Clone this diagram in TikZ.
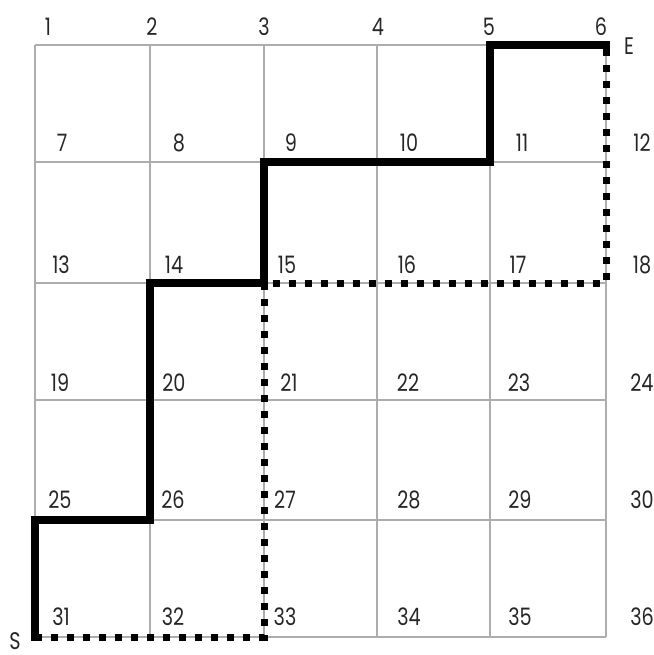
\documentclass[tikz,border=0pt]{standalone}
\usepackage{fontspec}
\setmainfont{Poppins}[FakeStretch=0.8]

\begin{document}
\begin{tikzpicture}[x=0.5pt,y=-0.5pt,font=\fontsize{12}{14}\selectfont,
  grid-line/.style={draw=black!32,line width=0.75pt},
  detour-line/.style={draw=black,line width=3.5pt,dash pattern=on 3.5pt off 4.5pt,line cap=butt},
  route-line/.style={draw=black,line width=3.7pt,line join=miter,line cap=rect},
  vertex-label/.style={anchor=base,inner sep=0pt,text=black!85}]
\useasboundingbox (0,0) rectangle (654,655);
\coordinate (vertex-1) at (35,45);
\coordinate (vertex-2) at (150,45);
\coordinate (vertex-3) at (264,45);
\coordinate (vertex-4) at (377,45);
\coordinate (vertex-5) at (490,45);
\coordinate (vertex-6) at (606,45);
\coordinate (vertex-7) at (35,162);
\coordinate (vertex-8) at (150,162);
\coordinate (vertex-9) at (264,162);
\coordinate (vertex-10) at (377,162);
\coordinate (vertex-11) at (490,162);
\coordinate (vertex-12) at (606,162);
\coordinate (vertex-13) at (35,283);
\coordinate (vertex-14) at (150,283);
\coordinate (vertex-15) at (264,283);
\coordinate (vertex-16) at (377,283);
\coordinate (vertex-17) at (490,283);
\coordinate (vertex-18) at (606,283);
\coordinate (vertex-19) at (35,400);
\coordinate (vertex-20) at (150,400);
\coordinate (vertex-21) at (264,400);
\coordinate (vertex-22) at (377,400);
\coordinate (vertex-23) at (490,400);
\coordinate (vertex-24) at (606,400);
\coordinate (vertex-25) at (35,520);
\coordinate (vertex-26) at (150,520);
\coordinate (vertex-27) at (264,520);
\coordinate (vertex-28) at (377,520);
\coordinate (vertex-29) at (490,520);
\coordinate (vertex-30) at (606,520);
\coordinate (vertex-31) at (35,637);
\coordinate (vertex-32) at (150,637);
\coordinate (vertex-33) at (264,637);
\coordinate (vertex-34) at (377,637);
\coordinate (vertex-35) at (490,637);
\coordinate (vertex-36) at (606,637);
\path[grid-line] (vertex-1) -- (vertex-6);
\path[grid-line] (vertex-7) -- (vertex-12);
\path[grid-line] (vertex-13) -- (vertex-18);
\path[grid-line] (vertex-19) -- (vertex-24);
\path[grid-line] (vertex-25) -- (vertex-30);
\path[grid-line] (vertex-31) -- (vertex-36);
\path[grid-line] (vertex-1) -- (vertex-31);
\path[grid-line] (vertex-2) -- (vertex-32);
\path[grid-line] (vertex-3) -- (vertex-33);
\path[grid-line] (vertex-4) -- (vertex-34);
\path[grid-line] (vertex-5) -- (vertex-35);
\path[grid-line] (vertex-6) -- (vertex-36);
\path[detour-line] (vertex-31) -- (vertex-33) -- (vertex-15) -- (vertex-18) -- (vertex-6);
\path[route-line] (vertex-31) -- (vertex-25) -- (vertex-26) -- (vertex-14) -- (vertex-15) -- (vertex-9) -- (vertex-11) -- (vertex-5) -- (vertex-6);
\node[vertex-label] (label-1) at (48,35) {1};
\node[vertex-label] (label-2) at (152,35) {2};
\node[vertex-label] (label-3) at (264,35) {3};
\node[vertex-label] (label-4) at (378,35) {4};
\node[vertex-label] (label-5) at (489,35) {5};
\node[vertex-label] (label-6) at (601,35) {6};
\node[vertex-label] (label-7) at (62,151) {7};
\node[vertex-label] (label-8) at (179,151) {8};
\node[vertex-label] (label-9) at (291,151) {9};
\node[vertex-label] (label-10) at (409,151) {10};
\node[vertex-label] (label-11) at (522,151) {11};
\node[vertex-label] (label-12) at (642,151) {12};
\node[vertex-label] (label-13) at (61,273) {13};
\node[vertex-label] (label-14) at (174,273) {14};
\node[vertex-label] (label-15) at (287,273) {15};
\node[vertex-label] (label-16) at (407,273) {16};
\node[vertex-label] (label-17) at (518,273) {17};
\node[vertex-label] (label-18) at (642,273) {18};
\node[vertex-label] (label-19) at (60,391) {19};
\node[vertex-label] (label-20) at (174,391) {20};
\node[vertex-label] (label-21) at (289,391) {21};
\node[vertex-label] (label-22) at (408,391) {22};
\node[vertex-label] (label-23) at (519,391) {23};
\node[vertex-label] (label-24) at (642,391) {24};
\node[vertex-label] (label-25) at (60,508) {25};
\node[vertex-label] (label-26) at (173,508) {26};
\node[vertex-label] (label-27) at (285,508) {27};
\node[vertex-label] (label-28) at (409,508) {28};
\node[vertex-label] (label-29) at (520,508) {29};
\node[vertex-label] (label-30) at (642,508) {30};
\node[vertex-label] (label-31) at (61,625) {31};
\node[vertex-label] (label-32) at (173,625) {32};
\node[vertex-label] (label-33) at (285,625) {33};
\node[vertex-label] (label-34) at (409,625) {34};
\node[vertex-label] (label-35) at (520,625) {35};
\node[vertex-label] (label-36) at (642,625) {36};
\node[vertex-label] (start-label) at (15,649) {S};
\node[vertex-label] (end-label) at (629,54) {E};
\end{tikzpicture}
\end{document}
